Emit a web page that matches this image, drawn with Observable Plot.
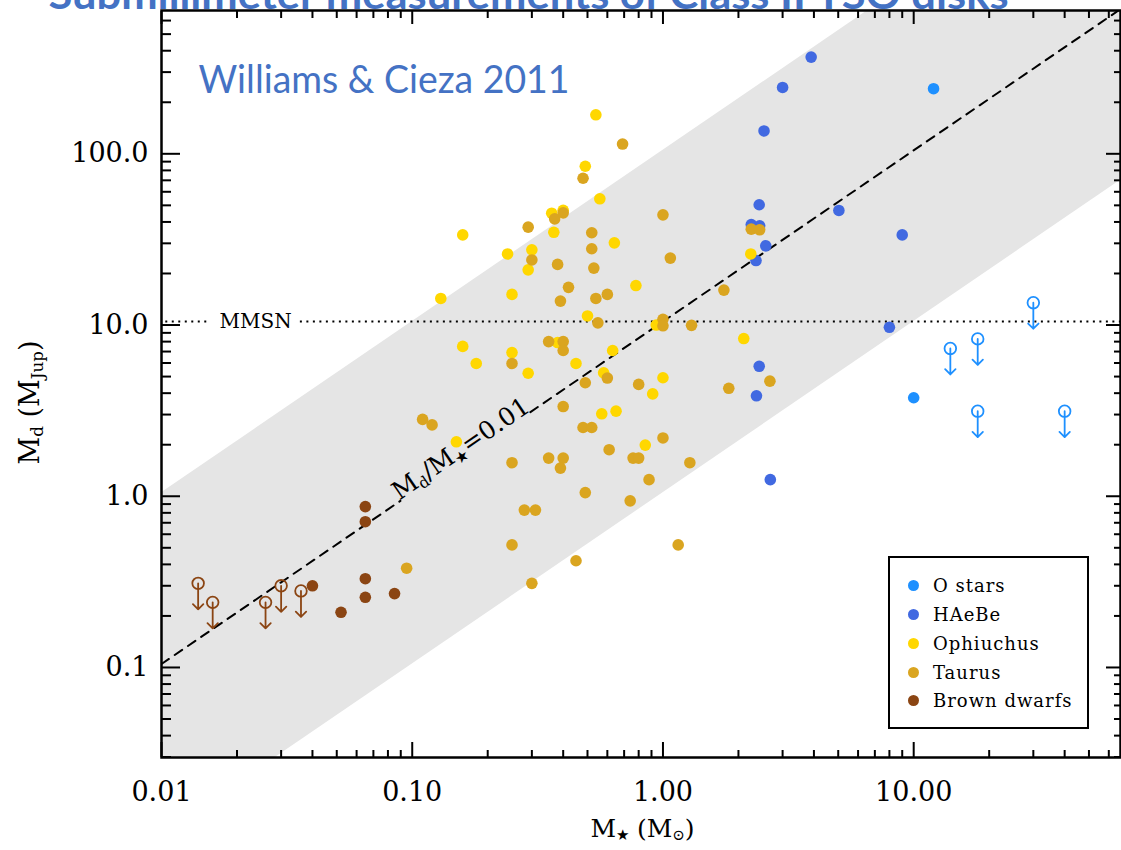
<!DOCTYPE html>
<html>
<head>
<meta charset="utf-8">
<script src="https://cdn.jsdelivr.net/npm/d3@7"></script>
<script src="https://cdn.jsdelivr.net/npm/@observablehq/plot@0.6"></script>
<style>
  html, body { margin: 0; padding: 0; background: #fff; }
  #chart { position: relative; width: 1121px; height: 850px; overflow: hidden; }
  #chart svg { position: absolute; left: 0; top: 0; }
  .legend {
    position: absolute; left: 888px; top: 556px; width: 201px; height: 173px;
    box-sizing: border-box; border: 2px solid #000; background: #fff;
    padding-top: 13.6px;
    font-family: "DejaVu Serif", serif; font-size: 18px; letter-spacing: 1px; color: #000;
  }
  .legend .row { display: flex; align-items: center; height: 28.75px; white-space: nowrap; }
  .legend .sw { flex: none; width: 11px; height: 11px; border-radius: 50%; margin-left: 17.5px; margin-right: 14.5px; }
</style>
</head>
<body>
<div id="chart"></div>
<script>
// Source groups and their colours
const groups = ["O stars", "HAeBe", "Ophiuchus", "Taurus", "Brown dwarfs"];
const groupColors = ["#1e90ff", "#4169e1", "#ffd700", "#daa520", "#8b4513"];

// Stellar mass (M_sun) and disk mass (M_Jup), detections
const oStarMass = [12.0, 10.0];
const oStarDisk = [240, 3.76];

const haebeMass = [3.9, 3.0, 2.53, 2.42, 2.25, 2.43, 2.57, 2.35, 5.03, 9.0, 8.0, 2.42, 2.36, 2.68];
const haebeDisk = [367, 244, 136, 50.4, 38.6, 38.0, 29.0, 23.8, 46.7, 33.6, 9.7, 5.74, 3.86, 1.25];

const ophMass = [0.159, 0.30, 0.24, 0.29, 0.13, 0.25, 0.54, 0.49, 0.56, 0.36, 0.40, 0.367, 0.64, 0.78, 0.50, 0.94,
                 2.1, 0.38, 0.63, 0.45, 0.58, 1.0, 0.91, 0.57, 0.65, 0.85, 0.159, 0.25, 0.18, 0.29, 0.15, 2.24];
const ophDisk = [33.6, 27.5, 26.0, 21.0, 14.3, 15.1, 169, 84.6, 54.6, 45.0, 46.8, 34.8, 30.2, 17.0, 11.3, 10.0,
                 8.34, 7.9, 7.1, 5.96, 5.26, 4.92, 3.96, 3.03, 3.14, 1.99, 7.5, 6.9, 5.96, 5.23, 2.08, 26.0];

const taurusMass = [0.29, 0.30, 0.69, 0.48, 0.37, 0.40, 0.52, 0.52, 0.53, 1.0, 1.07, 0.38, 0.42, 0.60, 0.54, 0.39,
                    1.75, 0.55, 1.0, 1.0, 1.30, 0.35, 0.40, 0.40, 0.60, 0.49, 0.80, 2.67, 1.83, 0.40, 0.48, 0.52,
                    1.0, 0.61, 0.35, 0.40, 0.39, 0.76, 0.80, 1.28, 0.88, 0.49, 0.74, 0.28, 0.31, 1.15, 0.45, 0.25,
                    0.30, 0.095, 0.11, 0.12, 0.25, 0.25, 2.25, 2.43];
const taurusDisk = [37.3, 24.0, 114, 72, 41.7, 45.2, 34.6, 27.9, 21.5, 44, 24.6, 22.6, 16.6, 15.1, 14.3, 13.8,
                    16.0, 10.3, 10.8, 9.9, 9.96, 8.0, 8.0, 7.1, 4.9, 4.6, 4.5, 4.7, 4.27, 3.34, 2.52, 2.52,
                    2.19, 1.87, 1.67, 1.67, 1.46, 1.67, 1.67, 1.57, 1.25, 1.05, 0.94, 0.83, 0.83, 0.52, 0.42, 0.52,
                    0.31, 0.38, 2.81, 2.61, 5.96, 1.57, 36.3, 36.0];

const bdMass = [0.040, 0.052, 0.065, 0.065, 0.085, 0.065, 0.065];
const bdDisk = [0.30, 0.21, 0.33, 0.257, 0.27, 0.87, 0.71];

// Upper limits (non-detections)
const oStarLimitMass = [30, 14, 18, 18, 40];
const oStarLimitDisk = [13.5, 7.3, 8.3, 3.14, 3.14];
const bdLimitMass = [0.014, 0.016, 0.026, 0.030, 0.036];
const bdLimitDisk = [0.31, 0.24, 0.24, 0.30, 0.28];

// Axis ticks
const xMajor = [0.01, 0.1, 1, 10];
const yMajor = [0.1, 1, 10, 100];
const xDomain = [0.01, 66.8];
const yDomain = [0.0298, 687];

// Reference relations
const MJUP_PER_MSUN = 1047.6;
const bandRatios = [0.001, 0.1];       // shaded range of Md/M*
const lineRatio = 0.01;                // dashed Md/M* = 0.01
const mmsn = 0.01 * MJUP_PER_MSUN;     // minimum mass solar nebula
const lineLabelMass = 0.163;           // where the ratio label sits
const lineSegments = [[xDomain[0], 0.0897], [0.296, xDomain[1]]];
const mmsnSegments = [[0.0104, 0.0153], [0.0358, xDomain[1]]];

const rows = (mass, disk, group) => mass.map((m, i) => ({mass: m, disk: disk[i], group}));
const detections = [
  ...rows(oStarMass, oStarDisk, "O stars"),
  ...rows(haebeMass, haebeDisk, "HAeBe"),
  ...rows(ophMass, ophDisk, "Ophiuchus"),
  ...rows(taurusMass, taurusDisk, "Taurus"),
  ...rows(bdMass, bdDisk, "Brown dwarfs")
];
const limits = [
  ...rows(oStarLimitMass, oStarLimitDisk, "O stars"),
  ...rows(bdLimitMass, bdLimitDisk, "Brown dwarfs")
];

// Minor ticks: 2..9 within each decade, kept inside the domain
const minorTicks = (lo, hi) => {
  const out = [];
  for (let e = Math.floor(Math.log10(lo)); e <= Math.ceil(Math.log10(hi)); e++)
    for (let k = 2; k <= 9; k++) {
      const v = k * Math.pow(10, e);
      if (v > lo && v < hi) out.push(v);
    }
  return out;
};
const xMinor = minorTicks(...xDomain);
const yMinor = minorTicks(...yDomain);

const blue = "#4472c4";
const serif = "'DejaVu Serif', serif";

const svg = Plot.plot({
  width: 1121,
  height: 850,
  marginTop: 10,
  marginLeft: 161,
  marginRight: 1,
  marginBottom: 93,
  x: {type: "log", domain: xDomain},
  y: {type: "log", domain: yDomain},
  color: {domain: groups, range: groupColors},
  style: {fontFamily: serif, fontSize: "20px", background: "white", overflow: "visible"},
  marks: [
    // shaded band of disk-to-star mass ratios
    Plot.areaY(xDomain, {
      x: d => d,
      y1: d => bandRatios[0] * MJUP_PER_MSUN * d,
      y2: d => bandRatios[1] * MJUP_PER_MSUN * d,
      fill: "#e5e5e5",
      clip: true
    }),
    // Md/M* = 0.01
    ...lineSegments.map(seg => Plot.line(seg, {
      x: d => d, y: d => lineRatio * MJUP_PER_MSUN * d,
      stroke: "black", strokeWidth: 2, strokeDasharray: "9,7", clip: true
    })),
    Plot.text([lineLabelMass], {
      x: d => d, y: d => lineRatio * MJUP_PER_MSUN * d,
      text: () => "Md/M*=0.01", rotate: -34.33, dy: -1,
      textAnchor: "middle", lineAnchor: "bottom", fontSize: 25, fontFamily: serif
    }),
    // MMSN
    ...mmsnSegments.map(seg => Plot.ruleY([mmsn], {
      x1: seg[0], x2: seg[1], stroke: "black", strokeWidth: 2, strokeDasharray: "2,4.5"
    })),
    Plot.text([mmsn], {
      y: d => d, frameAnchor: "left", dx: 58, text: () => "MMSN",
      textAnchor: "start", lineAnchor: "middle", fontSize: 20, fontFamily: serif
    }),
    // measurements
    Plot.dot(detections, {x: "mass", y: "disk", r: 5.8, fill: "group"}),
    Plot.dot(limits, {x: "mass", y: "disk", r: 5.8, stroke: "group", strokeWidth: 1.8}),
    Plot.vector(limits, {
      x: "mass", y: "disk", length: 26, rotate: 180, anchor: "start",
      stroke: "group", strokeWidth: 1.8
    }),
    // inward ticks on all four sides
    Plot.axisX(xMajor, {anchor: "bottom", tickSize: -15, strokeWidth: 2, fill: "none", label: null}),
    Plot.axisX(xMinor, {anchor: "bottom", tickSize: -7, strokeWidth: 2, fill: "none", label: null}),
    Plot.axisX(xMajor, {anchor: "top", tickSize: -13, strokeWidth: 2, fill: "none", label: null}),
    Plot.axisX(xMinor, {anchor: "top", tickSize: -7, strokeWidth: 2, fill: "none", label: null}),
    Plot.axisY(yMajor, {anchor: "left", tickSize: -19, strokeWidth: 2, fill: "none", label: null}),
    Plot.axisY(yMinor, {anchor: "left", tickSize: -10, strokeWidth: 2, fill: "none", label: null}),
    Plot.axisY(yMajor, {anchor: "right", tickSize: -15, strokeWidth: 2, fill: "none", label: null}),
    Plot.axisY(yMinor, {anchor: "right", tickSize: -7, strokeWidth: 2, fill: "none", label: null}),
    // tick labels
    Plot.axisX(xMajor, {
      anchor: "bottom", tickSize: 0, tickPadding: 24, label: null,
      tickFormat: d => d.toFixed(2), fontSize: 27, fontFamily: serif
    }),
    Plot.axisY(yMajor, {
      anchor: "left", tickSize: 0, tickPadding: 13, label: null,
      tickFormat: d => d.toFixed(1), fontSize: 27, fontFamily: serif
    }),
    Plot.frame({stroke: "black", strokeWidth: 2.5}),
    // axis titles
    Plot.text(["M* (M⊙)"], {
      frameAnchor: "bottom", dx: 1.5, dy: 79, text: d => d,
      textAnchor: "middle", lineAnchor: "bottom", fontSize: 25, fontFamily: serif
    }),
    Plot.text(["Md (MJup)"], {
      frameAnchor: "left", dx: -131, dy: 18.5, rotate: -90, text: d => d,
      textAnchor: "middle", lineAnchor: "middle", fontSize: 27, fontFamily: serif
    }),
    // headings
    Plot.text(["Williams & Cieza 2011"], {
      frameAnchor: "top-left", dx: 37, dy: 82, text: d => d,
      textAnchor: "start", lineAnchor: "bottom", fontSize: 38, fontFamily: "Lato, sans-serif", fill: blue
    }),
    Plot.text(["Submillimeter measurements of Class II YSO disks"], {
      frameAnchor: "top-left", dx: -113, dy: -2, text: d => d,
      textAnchor: "start", lineAnchor: "bottom", fontSize: 40, fontWeight: "bold",
      fontFamily: "Lato, sans-serif", fill: blue
    })
  ]
});

// Subscripted labels
const SVGNS = "http://www.w3.org/2000/svg";
function richText(plain, parts, shift = "-0.25em", size = "0.62em") {
  for (const t of svg.querySelectorAll("text")) {
    if (t.textContent !== plain) continue;
    t.textContent = "";
    for (const [s, sub] of parts) {
      const ts = document.createElementNS(SVGNS, "tspan");
      ts.textContent = s;
      if (sub) {
        ts.setAttribute("baseline-shift", shift);
        ts.setAttribute("font-size", size);
      }
      t.appendChild(ts);
    }
  }
}
function fitText(plain, width) {
  for (const t of svg.querySelectorAll("text")) {
    if (t.textContent !== plain) continue;
    t.setAttribute("textLength", width);
    t.setAttribute("lengthAdjust", "spacingAndGlyphs");
  }
}
fitText("Williams & Cieza 2011", 371);
fitText("Submillimeter measurements of Class II YSO disks", 960);
richText("Md/M*=0.01", [["M"], ["d", true], ["/M"], ["★", true], ["=0.01"]]);
richText("M* (M⊙)", [["M"], ["★", true], [" (M"], ["⊙", true], [")"]], "-0.2em", "0.6em");
richText("Md (MJup)", [["M"], ["d", true], [" (M"], ["Jup", true], [")"]]);

const chart = document.getElementById("chart");
chart.appendChild(svg);

// Legend
const legend = document.createElement("div");
legend.className = "legend";
groups.forEach((g, i) => {
  const row = document.createElement("div");
  row.className = "row";
  const sw = document.createElement("span");
  sw.className = "sw";
  sw.style.background = groupColors[i];
  const label = document.createElement("span");
  label.textContent = g;
  row.append(sw, label);
  legend.appendChild(row);
});
chart.appendChild(legend);
</script>
</body>
</html>
